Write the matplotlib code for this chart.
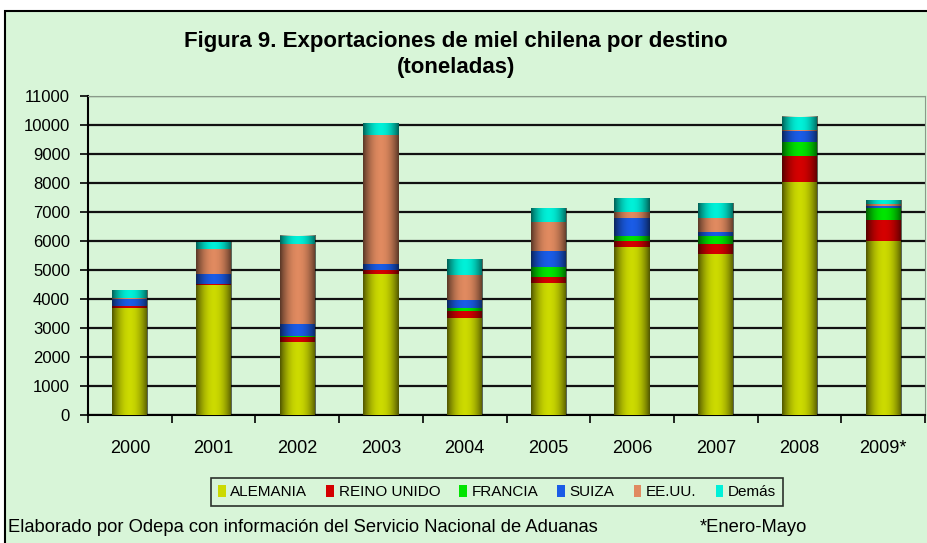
import numpy as np
import matplotlib
matplotlib.use('Agg')
import matplotlib.pyplot as plt
from matplotlib.patches import Rectangle, Patch

# data (toneladas)
years = ['2000', '2001', '2002', '2003', '2004', '2005', '2006', '2007', '2008', '2009*']
alemania = [3680, 4480, 2510, 4870, 3345, 4540, 5780, 5550, 8020, 6000]
reino_unido = [80, 50, 170, 120, 230, 210, 210, 335, 910, 735]
francia = [0, 0, 60, 0, 115, 345, 185, 290, 495, 390]
suiza = [230, 345, 390, 230, 285, 565, 620, 150, 355, 90]
eeuu = [45, 840, 2760, 4440, 840, 1010, 220, 470, 45, 45]
demas = [275, 265, 290, 400, 550, 460, 460, 505, 460, 140]

series = [('ALEMANIA', alemania, '#CCDA00'),
          ('REINO UNIDO', reino_unido, '#D40000'),
          ('FRANCIA', francia, '#00E400'),
          ('SUIZA', suiza, '#1A5CE6'),
          ('EE.UU.', eeuu, '#E08A60'),
          ('Demás', demas, '#00F0D8')]

bg = '#D8F5D8'
plt.rcParams['font.family'] = ['Liberation Sans', 'DejaVu Sans']

fig = plt.figure(figsize=(9.27, 5.43), dpi=100)
fig.patch.set_facecolor('white')
# outer frame
fig.patches.append(Rectangle((5 / 927, -0.05), 1.0, (543 - 11) / 543 + 0.05,
                             transform=fig.transFigure, facecolor=bg,
                             edgecolor='black', linewidth=1.5, zorder=-5))

ax = fig.add_axes([88 / 927, (543 - 415) / 543, (925 - 88) / 927, (415 - 96) / 543])
ax.set_zorder(2)
ax.set_facecolor(bg)

x = np.arange(len(years))
w = 0.42
bottom = np.zeros(len(years))
for name, vals, col in series:
    ax.bar(x, vals, w, bottom=bottom, color=col, label=name, zorder=3,
           edgecolor='none')
    bottom += np.array(vals)

# cylinder shading on each bar
t = np.linspace(-1, 1, 64)
shade = np.zeros((1, 64, 4))
shade[0, :, 3] = 0.6 * np.abs(t) ** 2
for xi, tot in zip(x, bottom):
    ax.imshow(shade, extent=(xi - w / 2, xi + w / 2, 0, tot), aspect='auto',
              zorder=4, interpolation='bilinear')

ax.set_xlim(-0.5, len(years) - 0.5)
ax.set_ylim(0, 11000)
ax.set_yticks(np.arange(0, 11001, 1000))
ax.tick_params(axis='y', labelsize=12, length=6, width=1.2, pad=7)
ax.set_xticks(x)
ax.set_xticklabels(years, fontsize=13)
ax.tick_params(axis='x', length=0, pad=18)
ax.set_xticks(np.arange(-0.5, len(years)), minor=True)
ax.tick_params(axis='x', which='minor', length=6, width=1.2)
ax.yaxis.grid(True, color='#111111', linewidth=1.6, zorder=1)
ax.set_axisbelow(True)
for s in ['left', 'bottom']:
    ax.spines[s].set_linewidth(1.5)
    ax.spines[s].set_color('black')
ax.spines['top'].set_color('#8A9A8A')
ax.spines['right'].set_color('#8A9A8A')

fig.text(456 / 927, (543 - 41) / 543, 'Figura 9. Exportaciones de miel chilena por destino',
         ha='center', va='center', fontsize=16, fontweight='bold')
fig.text(456 / 927, (543 - 67) / 543, '(toneladas)', ha='center', va='center',
         fontsize=16, fontweight='bold')

handles = [Patch(facecolor=c, label=n) for n, v, c in series]
leg = fig.legend(handles=handles, loc='center', ncol=6,
                 bbox_to_anchor=(497 / 927, (543 - 492) / 543), fontsize=11,
                 frameon=True, fancybox=False, edgecolor='black',
                 handlelength=0.5, handleheight=0.8, handletextpad=0.3,
                 columnspacing=1.25, borderpad=0.45)
leg.get_frame().set_facecolor(bg)
leg.get_frame().set_linewidth(1.2)

fig.text(8 / 927, (543 - 527) / 543,
         'Elaborado por Odepa con información del Servicio Nacional de Aduanas',
         ha='left', va='center', fontsize=13.2)
fig.text(700 / 927, (543 - 527) / 543, '*Enero-Mayo', ha='left', va='center',
         fontsize=13.2)

fig.savefig('out.png', dpi=100, facecolor=fig.get_facecolor())
